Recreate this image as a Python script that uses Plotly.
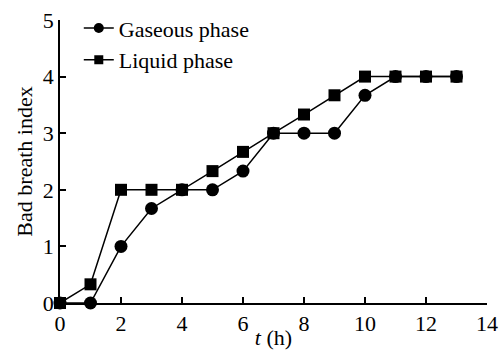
import plotly.graph_objects as go

t_gas = [0, 1, 2, 3, 4, 5, 6, 7, 8, 9, 10, 11, 12, 13]
gaseous = [0, 0, 1, 1.67, 2, 2, 2.33, 3, 3, 3, 3.67, 4, 4, 4]
t_liq = [0, 1, 2, 3, 4, 5, 6, 7, 8, 9, 10, 11, 12, 13]
liquid = [0, 0.33, 2, 2, 2, 2.33, 2.67, 3, 3.33, 3.67, 4, 4, 4, 4]
names = ["Gaseous phase", "Liquid phase"]

font = "Liberation Serif, Times New Roman, serif"

fig = go.Figure()
fig.add_trace(go.Scatter(x=t_gas, y=gaseous, mode="lines+markers", name=names[0], showlegend=False,
                         line=dict(color="black", width=1.5),
                         marker=dict(symbol="circle", size=13, color="black"), cliponaxis=False))
fig.add_trace(go.Scatter(x=t_liq, y=liquid, mode="lines+markers", name=names[1], showlegend=False,
                         line=dict(color="black", width=1.5),
                         marker=dict(symbol="square", size=12, color="black"), cliponaxis=False))
# legend entries with smaller symbols
fig.add_trace(go.Scatter(x=[None], y=[None], mode="lines+markers", name=names[0],
                         line=dict(color="black", width=1.5),
                         marker=dict(symbol="circle", size=10, color="black")))
fig.add_trace(go.Scatter(x=[None], y=[None], mode="lines+markers", name=names[1],
                         line=dict(color="black", width=1.5),
                         marker=dict(symbol="square", size=9, color="black")))

fig.update_layout(
    width=501, height=350,
    margin=dict(l=60, r=14, t=20, b=47, autoexpand=False),
    plot_bgcolor="white", paper_bgcolor="white",
    font=dict(family=font, size=22, color="black"),
    showlegend=True,
    legend=dict(x=0.044, y=1.045, xanchor="left", yanchor="top", bgcolor="rgba(0,0,0,0)",
                font=dict(family=font, size=22), tracegroupgap=0, itemwidth=30),
    xaxis=dict(range=[0, 14], tickvals=[0, 2, 4, 6, 8, 10, 12, 14], showgrid=False, zeroline=False,
               showline=True, linecolor="black", linewidth=1.5, ticks="inside", ticklen=6,
               tickcolor="black", tickwidth=1.5, tickfont=dict(family=font, size=22),
               ticklabelstandoff=0, automargin=False,
               title=dict(text="<i>t</i> (h)", font=dict(family=font, size=22), standoff=0)),
    yaxis=dict(range=[0, 5], tickvals=[0, 1, 2, 3, 4, 5], showgrid=False, zeroline=False,
               showline=True, linecolor="black", linewidth=1.5, ticks="inside", ticklen=6,
               tickcolor="black", tickwidth=1.5, tickfont=dict(family=font, size=22),
               automargin=False,
               title=dict(text="Bad breath index", font=dict(family=font, size=22), standoff=4)),
)

fig.write_html("out.html")
